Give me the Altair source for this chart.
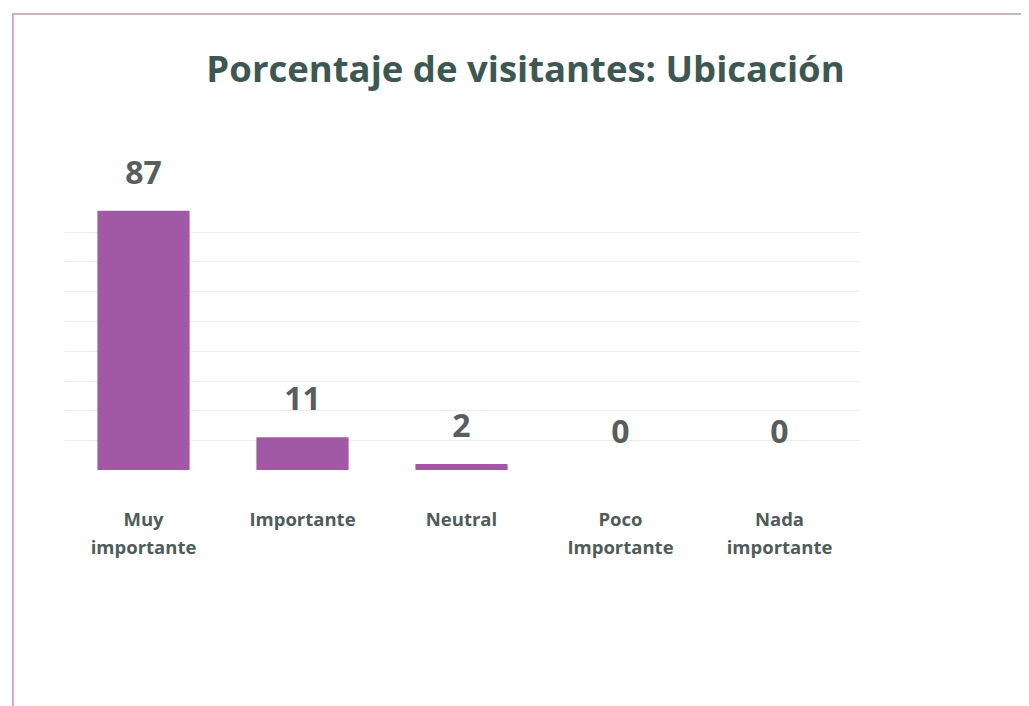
import altair as alt
import pandas as pd

categories = ["Muy importante", "Importante", "Neutral", "Poco Importante", "Nada importante"]
values = [87, 11, 2, 0, 0]
grid_values = [10, 20, 30, 40, 50, 60, 70, 80]

df = pd.DataFrame({"cat": categories, "val": values})

FONT = "Open Sans"
x = alt.X("cat:N", sort=categories, title=None,
          scale=alt.Scale(paddingInner=0.42, paddingOuter=0.21),
          axis=alt.Axis(labelExpr="split(datum.label, ' ')", labelAngle=0,
                        labelFontSize=18.5, labelFontWeight="bold", labelColor="#4f5c5a",
                        labelFont=FONT, labelPadding=40, labelLineHeight=28,
                        domain=False, ticks=False))
y = alt.Y("val:Q", title=None, scale=alt.Scale(domain=[0, 100]),
          axis=alt.Axis(values=grid_values, labels=False, ticks=False, domain=False,
                        grid=True, gridColor="#ededed", gridWidth=1))

bars = alt.Chart(df).mark_bar(color="#a159a6").encode(x=x, y=y)
labels = alt.Chart(df).mark_text(baseline="bottom", dy=-20, fontSize=32, fontWeight="bold",
                                 font=FONT, color="#575e5d").encode(x=x, y=y, text="val:Q")

border = alt.Chart(df).mark_rect(fill=None, stroke="#cdb3bd", strokeWidth=2, clip=False).encode(
    x=alt.value(-51), x2=alt.value(962), y=alt.value(-158), y2=alt.value(600))

chart = alt.layer(border, bars, labels).properties(
    width=795, height=298,
    background="white",
    autosize=alt.AutoSizeParams(type="none"),
    padding={"left": 56, "top": 164, "right": 162, "bottom": 236},
    title=alt.TitleParams("Porcentaje de visitantes: Ubicación", fontSize=36.5, font=FONT,
                          fontWeight="bold", color="#3d5753", offset=-76, dx=64,
                          anchor="middle")
).configure_view(strokeWidth=0, stroke=None)

chart.save("out.html", embed_options={"renderer": "svg", "actions": False})
